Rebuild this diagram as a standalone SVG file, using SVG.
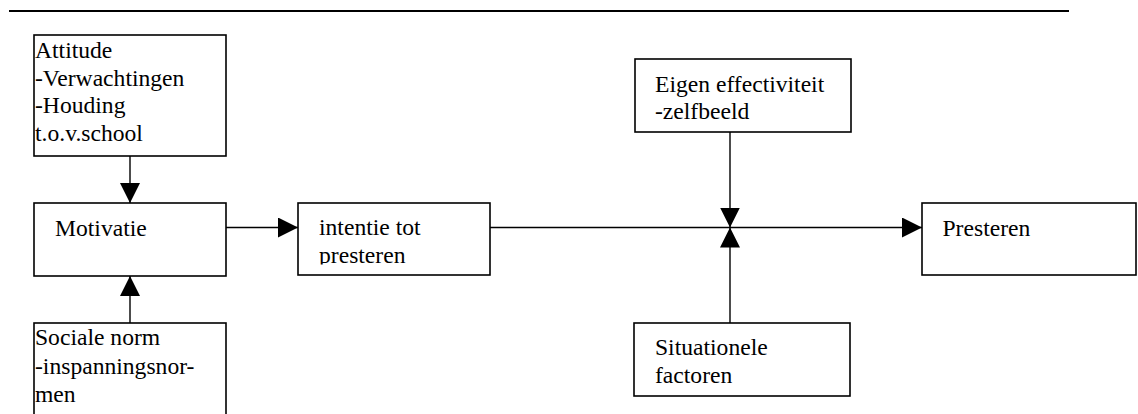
<svg xmlns="http://www.w3.org/2000/svg" width="1138" height="414" viewBox="0 0 1138 414">
<defs>
<marker id="ah" markerUnits="userSpaceOnUse" markerWidth="20" markerHeight="20" viewBox="0 0 20 20" refX="20" refY="10" orient="auto">
<path d="M0,0 L20,10 L0,20 z" fill="#000"/>
</marker>
</defs>
<rect width="1138" height="414" fill="#fff"/>
<line x1="9" y1="11" x2="1069" y2="11" stroke="#000" stroke-width="2"/>
<g id="connectors" stroke="#000" stroke-width="1.4" fill="none">
<line x1="130" y1="156" x2="130" y2="203" marker-end="url(#ah)"/>
<line x1="130" y1="323" x2="130" y2="276" marker-end="url(#ah)"/>
<line x1="226" y1="227.5" x2="298" y2="227.5" marker-end="url(#ah)"/>
<line x1="490" y1="227.5" x2="922" y2="227.5" marker-end="url(#ah)"/>
<line x1="730" y1="132" x2="730" y2="227.5" marker-end="url(#ah)"/>
<line x1="730" y1="323" x2="730" y2="227.5" marker-end="url(#ah)"/>
</g>
<g id="attitude">
<rect x="34" y="35" width="192" height="121" fill="#fff" stroke="#000" stroke-width="1.6"/>
<text x="35" y="58" font-family="Times New Roman, Liberation Serif, serif" font-size="23.6">Attitude</text>
<text x="35" y="85.5" font-family="Times New Roman, Liberation Serif, serif" font-size="23.6">-Verwachtingen</text>
<text x="35" y="113" font-family="Times New Roman, Liberation Serif, serif" font-size="23.6">-Houding</text>
<text x="35" y="141" font-family="Times New Roman, Liberation Serif, serif" font-size="23.6">t.o.v.school</text>
</g>
<g id="motivatie">
<rect x="34" y="203" width="192" height="73" fill="#fff" stroke="#000" stroke-width="1.6"/>
<text x="55" y="235.5" font-family="Times New Roman, Liberation Serif, serif" font-size="23.6">Motivatie</text>
</g>
<g id="sociale-norm">
<rect x="34" y="323" width="192" height="100" fill="#fff" stroke="#000" stroke-width="1.6"/>
<text x="35" y="345" font-family="Times New Roman, Liberation Serif, serif" font-size="23.6">Sociale norm</text>
<text x="35" y="373.5" font-family="Times New Roman, Liberation Serif, serif" font-size="23.6">-inspanningsnor-</text>
<text x="35" y="402" font-family="Times New Roman, Liberation Serif, serif" font-size="23.6">men</text>
</g>
<g id="intentie">
<rect x="298" y="203" width="192" height="72" fill="#fff" stroke="#000" stroke-width="1.6"/>
<svg x="298" y="203" width="192" height="61.5" viewBox="298 203 192 61.5" overflow="hidden">
<text x="319" y="235" font-family="Times New Roman, Liberation Serif, serif" font-size="23.6">intentie tot</text>
<text x="319" y="262.5" font-family="Times New Roman, Liberation Serif, serif" font-size="23.6">presteren</text>
</svg>
</g>
<g id="eigen-effectiviteit">
<rect x="635" y="59" width="216" height="73" fill="#fff" stroke="#000" stroke-width="1.6"/>
<text x="655" y="91.5" font-family="Times New Roman, Liberation Serif, serif" font-size="23.6">Eigen effectiviteit</text>
<text x="655" y="119" font-family="Times New Roman, Liberation Serif, serif" font-size="23.6">-zelfbeeld</text>
</g>
<g id="situationele-factoren">
<rect x="634" y="323" width="216" height="73" fill="#fff" stroke="#000" stroke-width="1.6"/>
<text x="655" y="355" font-family="Times New Roman, Liberation Serif, serif" font-size="23.6">Situationele</text>
<text x="655" y="382.5" font-family="Times New Roman, Liberation Serif, serif" font-size="23.6">factoren</text>
</g>
<g id="presteren">
<rect x="922" y="203" width="214" height="72" fill="#fff" stroke="#000" stroke-width="1.6"/>
<text x="942.5" y="235.5" font-family="Times New Roman, Liberation Serif, serif" font-size="23.6">Presteren</text>
</g>
</svg>
